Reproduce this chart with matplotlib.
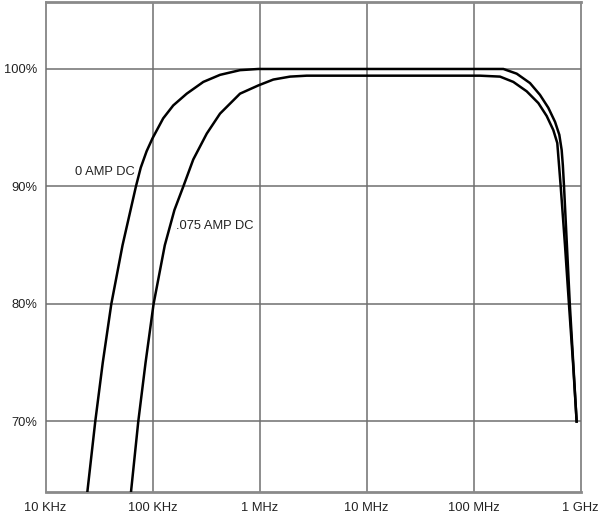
import numpy as np
import matplotlib
matplotlib.use('Agg')
import matplotlib.pyplot as plt

plt.rcParams['font.family'] = ['Liberation Sans', 'DejaVu Sans']

# log10(frequency in Hz) and response in %
zero_amp_logf = [4.391, 4.465, 4.535, 4.615, 4.72, 4.845, 4.89, 4.945, 5.0, 5.10, 5.194,
                 5.320, 5.475, 5.631, 5.818, 5.989,
                 8.279, 8.404, 8.528, 8.621, 8.699, 8.762, 8.802, 8.824, 8.835, 8.846,
                 8.873, 8.90, 8.932, 8.964]
zero_amp_pct = [64.0, 70.0, 75.0, 80.0, 85.0, 90.0, 91.6, 93.0, 94.1, 95.8, 96.9,
                97.9, 98.9, 99.5, 99.9, 100.0,
                100.0, 99.6, 98.8, 97.8, 96.7, 95.5, 94.4, 93.1, 91.8, 90.0,
                85.0, 80.0, 75.0, 70.0]

dc075_logf = [4.799, 4.867, 4.935, 5.01, 5.115, 5.205, 5.288, 5.381, 5.507, 5.631, 5.818,
              5.989, 6.129, 6.285, 6.441,
              8.061, 8.248, 8.372, 8.497, 8.606, 8.684, 8.746, 8.783, 8.796, 8.815,
              8.855, 8.892, 8.930, 8.964]
dc075_pct = [64.0, 70.0, 75.0, 80.0, 85.0, 88.0, 90.0, 92.3, 94.5, 96.2, 97.9,
             98.6, 99.1, 99.35, 99.43,
             99.43, 99.35, 98.9, 98.1, 97.1, 96.0, 94.8, 93.7, 92.2, 90.0,
             85.0, 80.0, 75.0, 70.0]

x_ticks = [1e4, 1e5, 1e6, 1e7, 1e8, 1e9]
x_labels = ['10 KHz', '100 KHz', '1 MHz', '10 MHz', '100 MHz', '1 GHz']
y_ticks = [70, 80, 90, 100]
y_labels = ['70%', '80%', '90%', '100%']

fig = plt.figure(figsize=(6.0, 5.17), dpi=100)
ax = fig.add_axes([45.5 / 600, 25 / 517, 535 / 600, 490 / 517])

grid_col = '#6f6f6f'
for xt in x_ticks[1:-1]:
    ax.axvline(xt, color=grid_col, lw=1.1, zorder=1)
for yt in y_ticks:
    ax.axhline(yt, color=grid_col, lw=1.1, zorder=1)

ax.plot(10 ** np.array(zero_amp_logf), zero_amp_pct, color='black', lw=1.8,
        solid_joinstyle='round', zorder=3)
ax.plot(10 ** np.array(dc075_logf), dc075_pct, color='black', lw=1.8,
        solid_joinstyle='round', zorder=3)

ax.set_xscale('log')
ax.set_xlim(1e4, 1e9)
ax.set_ylim(64.0, 105.7)
ax.minorticks_off()
ax.set_xticks(x_ticks)
ax.set_xticklabels(x_labels)
ax.set_yticks(y_ticks)
ax.set_yticklabels(y_labels)
ax.tick_params(length=0, labelsize=9.3, labelcolor='#222222', pad=6)
ax.tick_params(axis='x', pad=7)

for side in ['left', 'right']:
    ax.spines[side].set_color(grid_col)
    ax.spines[side].set_linewidth(1.1)
for side in ['top', 'bottom']:
    ax.spines[side].set_color('#8a8a8a')
    ax.spines[side].set_linewidth(2.0)

ax.text(10 ** 4.28, 91.2, '0 AMP DC', fontsize=9.3, color='#222222', ha='left', va='center')
ax.text(10 ** 5.215, 86.6, '.075 AMP DC', fontsize=9.3, color='#222222', ha='left', va='center')

fig.savefig('out.png', dpi=100)
